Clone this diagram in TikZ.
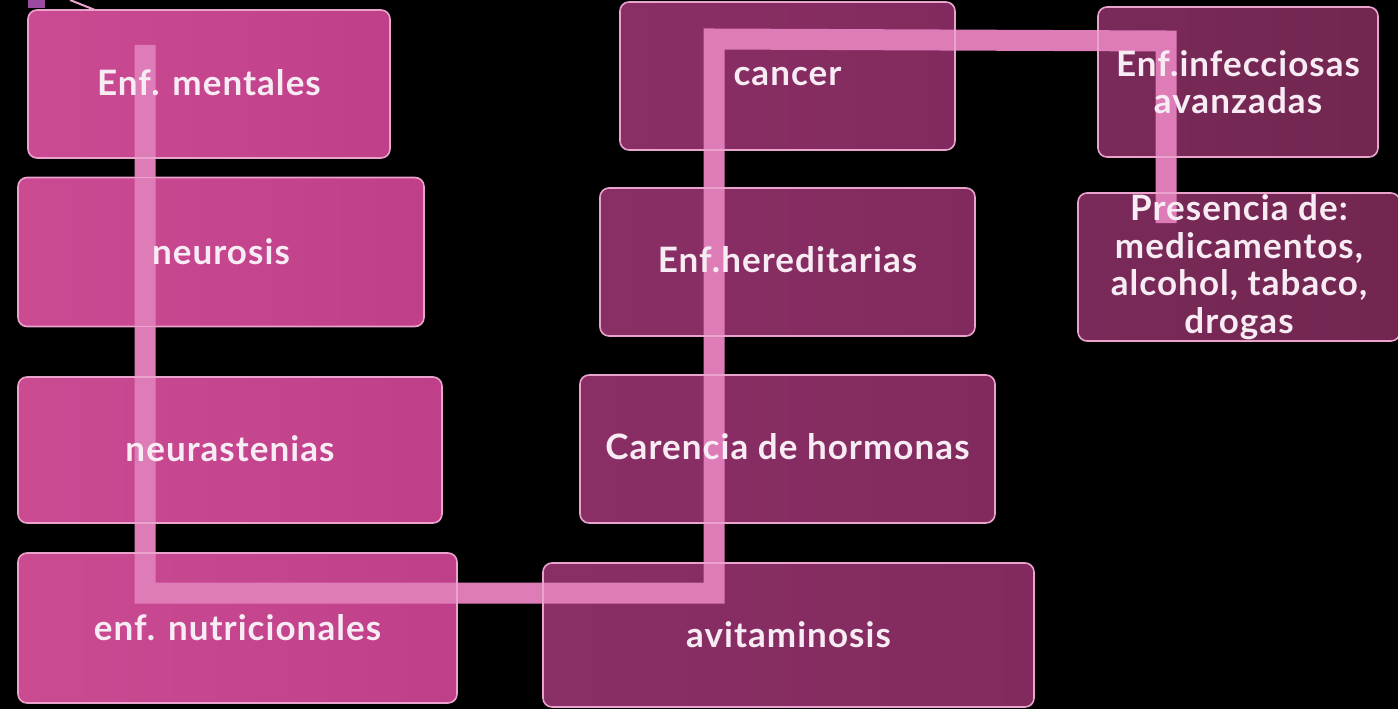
\documentclass[tikz,border=0pt]{standalone}
\usepackage{fontspec}
\setmainfont{Lato}[LetterSpace=3]
\definecolor{txtc}{HTML}{F8ECF4}
\definecolor{edgec}{HTML}{E9A3CC}
\definecolor{bandc}{HTML}{DE7CB8}
\definecolor{strayc}{HTML}{9A4AA0}
\definecolor{lA}{HTML}{CB4B93}
\definecolor{lB}{HTML}{D962A5}
\definecolor{lC}{HTML}{BF4089}
\definecolor{mA}{HTML}{8A2F66}
\definecolor{mB}{HTML}{9C3B74}
\definecolor{mC}{HTML}{822A5E}
\definecolor{rA}{HTML}{7A2A5A}
\definecolor{rB}{HTML}{88315F}
\definecolor{rC}{HTML}{72264F}
\begin{document}
\begin{tikzpicture}[x=1pt,y=-1pt,
  box/.style={rounded corners=9pt, draw=edgec, line width=1.6pt, inner sep=0pt},
  lbox/.style={box, left color=lA, middle color=lB, right color=lC},
  mbox/.style={box, left color=mA, middle color=mB, right color=mC},
  rbox/.style={box, left color=rA, middle color=rB, right color=rC},
  lbl/.style={text=txtc, font=\bfseries\fontsize{35}{37.5}\selectfont, align=center, inner sep=0pt},
  band/.style={draw=bandc, line width=21pt, line join=miter}
]
\useasboundingbox (0,0) rectangle (1398,709);
\fill[black] (0,0) rectangle (1398,709);

% stray marks at the top left
\fill[strayc] (28,0) rectangle (45,8);
\draw[edgec, line width=2pt] (70,0) -- (105,14);

% boxes
\node[lbox, minimum width=362pt, minimum height=148pt] (m1) at (209,84) {};
\node[lbox, minimum width=406pt, minimum height=149pt] (m2) at (221,252) {};
\node[lbox, minimum width=424pt, minimum height=146pt] (m3) at (230,450) {};
\node[lbox, minimum width=439pt, minimum height=150pt] (m4) at (237.5,628) {};
\node[mbox, minimum width=335pt, minimum height=148pt] (c1) at (787.5,76) {};
\node[mbox, minimum width=375pt, minimum height=148pt] (c2) at (787.5,262) {};
\node[mbox, minimum width=415pt, minimum height=148pt] (c3) at (787.5,449) {};
\node[mbox, minimum width=491pt, minimum height=144pt] (c4) at (788.5,635) {};
\node[rbox, minimum width=280pt, minimum height=150pt] (r1) at (1238,82) {};
\node[rbox, minimum width=322pt, minimum height=148pt] (r2) at (1239,267) {};

% connector band
\coordinate (b0) at (145,45);
\coordinate (b1) at (145,593);
\coordinate (b2) at (714,593);
\coordinate (b3) at (714,39);
\coordinate (b4) at (1166,41);
\coordinate (b5) at (1166,223);
\begin{scope}[blend mode=lighten]
\draw[band] (b0) -- (b1) -- (b2) -- (b3) -- (b4) -- (b5);
\end{scope}

% texts
\node[lbl] (m1t) at ([yshift=1pt]m1) {Enf. mentales};
\node[lbl] (m2t) at (m2) {neurosis};
\node[lbl] (m3t) at ([yshift=1pt]m3) {neurastenias};
\node[lbl] (m4t) at (m4) {enf. nutricionales};
\node[lbl] (c1t) at (c1) {cancer};
\node[lbl] (c2t) at ([yshift=2pt]c2) {Enf.hereditarias};
\node[lbl] (c3t) at ([yshift=2pt]c3) {Carencia de hormonas};
\node[lbl] (c4t) at (c4) {avitaminosis};
\node[lbl] (r1t) at (r1) {Enf.infecciosas\\avanzadas};
\node[lbl] (r2t) at (r2) {Presencia de:\\medicamentos,\\alcohol, tabaco,\\drogas};
\end{tikzpicture}
\end{document}
